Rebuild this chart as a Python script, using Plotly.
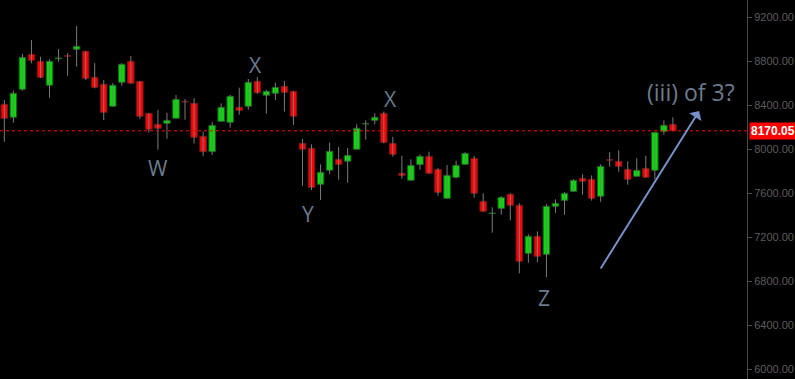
import plotly.graph_objects as go

# Daily OHLC bars, oldest first
opens = [8411, 8293, 8547, 8865, 8802, 8584, 8825, 8852, 8911, 8893,
         8656, 8593, 8393, 8611, 8802, 8620, 8329, 8229, 8238, 8284,
         8437, 8420, 8120, 7980, 8256, 8247, 8384, 8393, 8620, 8493,
         8511, 8575, 8529, 8056, 8011, 7684, 7811, 7911, 7893, 8002,
         8232, 8265, 8329, 8056, 7784, 7720, 7862, 7938, 7820, 7556,
         7747, 7865, 7920, 7529, 7418, 7465, 7593, 7493, 7056, 7211,
         7047, 7484, 7538, 7620, 7738, 7729, 7575, 7907, 7893, 7820,
         7756, 7829, 7811, 8165, 8229]
highs = [8450, 8535, 8868, 8995, 8844, 8820, 8914, 8875, 9123, 8895,
         8786, 8632, 8602, 8784, 8850, 8622, 8331, 8359, 8335, 8495,
         8459, 8468, 8162, 8250, 8420, 8495, 8562, 8641, 8659, 8541,
         8607, 8623, 8531, 8095, 8047, 7865, 8062, 8023, 8014, 8229,
         8265, 8329, 8344, 8116, 7944, 7911, 7956, 7980, 7829, 7859,
         7898, 7975, 7941, 7602, 7475, 7575, 7602, 7511, 7229, 7256,
         7502, 7547, 7611, 7729, 7775, 7765, 7865, 7975, 7993, 7893,
         7920, 7944, 8158, 8265, 8293]
lows = [8071, 8244, 8535, 8784, 8650, 8471, 8798, 8671, 8753, 8632,
        8556, 8268, 8390, 8580, 8600, 8280, 8153, 7998, 8098, 8282,
        8271, 8056, 7941, 7950, 8254, 8198, 8316, 8362, 8507, 8325,
        8450, 8344, 8223, 7671, 7632, 7541, 7775, 7725, 7698, 8000,
        8089, 8229, 8056, 7935, 7735, 7718, 7816, 7782, 7580, 7554,
        7738, 7863, 7562, 7436, 7244, 7407, 7356, 6875, 6971, 6975,
        6838, 7425, 7407, 7618, 7589, 7535, 7525, 7844, 7798, 7680,
        7754, 7745, 7729, 8135, 8168]
closes = [8284, 8511, 8838, 8811, 8656, 8802, 8832, 8848, 8938, 8647,
          8565, 8338, 8584, 8775, 8602, 8302, 8184, 8193, 8265, 8456,
          8432, 8111, 7980, 8220, 8384, 8484, 8356, 8611, 8516, 8529,
          8565, 8520, 8302, 8002, 7656, 7793, 7984, 7865, 7947, 8193,
          8237, 8293, 8065, 7956, 7765, 7856, 7938, 7784, 7611, 7765,
          7856, 7965, 7602, 7438, 7422, 7565, 7493, 6984, 7211, 7029,
          7484, 7511, 7602, 7720, 7711, 7556, 7847, 7903, 7847, 7729,
          7811, 7747, 8156, 8220, 8170.05]

last_price = 8170.05
y_ticks = [6000, 6400, 6800, 7200, 7600, 8000, 8400, 8800, 9200]

# Wave labels: (text, bar index, price, font size)
wave_labels = [
    ("W", 17.0, 7832, 21),
    ("X", 27.8, 8768, 21),
    ("Y", 33.6, 7414, 21),
    ("X", 42.7, 8459, 21),
    ("Z", 59.7, 6650, 21),
    ("(iii) of 3?", 76.0, 8523, 23),
]
# Projection arrow: start (bar, price) -> end (bar, price)
arrow_start = (65.9, 6905)
arrow_end = (76.9, 8350)

UP_FILL, UP_EDGE = "#00e000", "#1f5c1f"
DN_FILL, DN_EDGE = "#ff0000", "#701818"
WICK = "#7a7a7a"
LABEL = "#6b7b8c"

idx = list(range(len(opens)))

fig = go.Figure()

# wicks: high-low segments
wx, wy = [], []
for i, h, l in zip(idx, highs, lows):
    wx += [i, i, None]
    wy += [l, h, None]
fig.add_trace(go.Scatter(x=wx, y=wy, mode="lines",
                         line=dict(color=WICK, width=1),
                         hoverinfo="skip", showlegend=False))

# bodies: open-close boxes
base = [min(o, c) for o, c in zip(opens, closes)]
height = [abs(c - o) for o, c in zip(opens, closes)]
fills = [UP_FILL if c >= o else DN_FILL for o, c in zip(opens, closes)]
edges = [UP_EDGE if c >= o else DN_EDGE for o, c in zip(opens, closes)]
fig.add_trace(go.Bar(x=idx, y=height, base=base, width=0.72,
                     marker=dict(color=fills, line=dict(color=edges, width=1)),
                     hoverinfo="skip", showlegend=False))

# last price line
fig.add_shape(type="line", xref="paper", x0=0, x1=1, yref="y",
              y0=last_price, y1=last_price,
              line=dict(color="#ff0000", width=1, dash="dot"))
fig.add_annotation(xref="paper", x=1, xanchor="left", xshift=2,
                   yref="y", y=last_price, yanchor="middle",
                   text="<b>%.2f</b>" % last_price, showarrow=False,
                   bgcolor="#ff0000", borderpad=1,
                   font=dict(color="white", size=12,
                             family="Liberation Sans, Arial, sans-serif"))

for text, x, y, size in wave_labels:
    fig.add_annotation(x=x, y=y, text=text, showarrow=False,
                       font=dict(color=LABEL, size=size,
                                 family="Open Sans, sans-serif"))

fig.add_annotation(x=arrow_end[0], y=arrow_end[1],
                   ax=arrow_start[0], ay=arrow_start[1],
                   axref="x", ayref="y", text="", showarrow=True,
                   arrowhead=1, arrowsize=1.2, arrowwidth=2,
                   arrowcolor="#7890c8")

fig.update_layout(
    width=795, height=379,
    margin=dict(l=0, r=48, t=0, b=0),
    paper_bgcolor="#000000", plot_bgcolor="#000000",
    showlegend=False,
    xaxis=dict(visible=False, range=[-0.48, 82.2], fixedrange=True),
    yaxis=dict(side="right", range=[5914, 9359],
               tickvals=y_ticks, ticktext=["%.2f" % v for v in y_ticks],
               showgrid=False, zeroline=False,
               showline=True, linecolor="#4a4a4a", linewidth=1,
               ticks="outside", ticklen=4, tickcolor="#4a4a4a",
               tickfont=dict(color="#5c5c5c", size=11,
                             family="Liberation Sans, Arial, sans-serif")),
)

fig.write_html("out.html", config={"displayModeBar": False})
